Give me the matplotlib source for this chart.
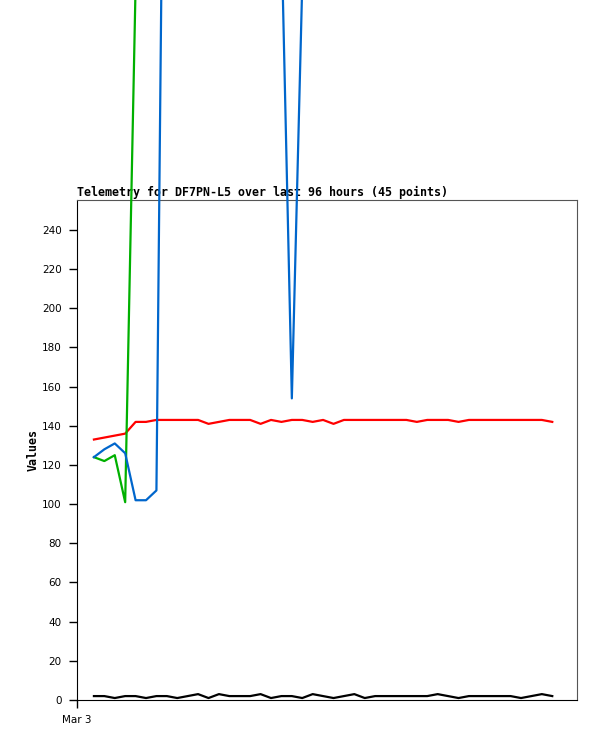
import matplotlib
matplotlib.use("Agg")
import matplotlib.pyplot as plt
import pandas as pd

# 45 telemetry samples, one every 2 hours starting Mar 3 03:15
times = pd.date_range("2024-03-03 03:15", periods=45, freq="2h")

red = [133, 134, 135, 136, 142, 142, 143, 143, 143, 143,
       143, 141, 142, 143, 143, 143, 141, 143, 142, 143,
       143, 142, 143, 141, 143, 143, 143, 143, 143, 143,
       143, 142, 143, 143, 143, 142, 143, 143, 143, 143,
       143, 143, 143, 143, 142]
green = [124, 122, 125, 101, 365, 380, 380, 380, 380, 380,
         380, 380, 380, 380, 380, 380, 380, 380, 380, 380,
         380, 380, 380, 380, 380, 380, 380, 380, 380, 380,
         380, 380, 380, 380, 380, 380, 380, 380, 380, 380,
         380, 380, 380, 380, 380]
blue = [124, 128, 131, 126, 102, 102, 107, 650, 600, 600,
        600, 600, 600, 600, 600, 600, 600, 600, 392, 154,
        366, 600, 600, 600, 600, 600, 600, 600, 600, 600,
        600, 600, 600, 600, 600, 600, 600, 600, 600, 600,
        600, 600, 600, 600, 600]
black = [2, 2, 1, 2, 2, 1, 2, 2, 1, 2,
         3, 1, 3, 2, 2, 2, 3, 1, 2, 2,
         1, 3, 2, 1, 2, 3, 1, 2, 2, 2,
         2, 2, 2, 3, 2, 1, 2, 2, 2, 2,
         2, 1, 2, 3, 2]

y_ticks = list(range(0, 241, 20))
x_start = pd.Timestamp("2024-03-03 00:00")
x_end = pd.Timestamp("2024-03-07 00:00")

fig = plt.figure(figsize=(5.97, 7.41), dpi=100)
ax = fig.add_axes([77 / 597, 1 - 700 / 741, 500 / 597, 500 / 741])

series = [(red, "#ff0000"), (green, "#00b000"), (blue, "#0066cc"), (black, "#000000")]
for values, color in series:
    ax.plot(times, values, color=color, linewidth=1.6, clip_on=False, zorder=5)

ax.set_xlim(x_start, x_end)
ax.set_ylim(0, 255.3)
ax.set_yticks(y_ticks)
ax.set_xticks([x_start])
ax.set_xticklabels(["Mar 3"])

ax.tick_params(axis="both", direction="out", length=6, width=1, labelsize=7.5,
               pad=5, colors="black")
ax.spines["top"].set_color("#555555")
ax.spines["right"].set_color("#555555")

ax.set_title("Telemetry for DF7PN-L5 over last 96 hours (45 points)",
             loc="left", fontsize=8.35, fontweight="bold",
             family="DejaVu Sans Mono", pad=3)
ax.set_ylabel("Values", fontsize=8.35, fontweight="bold",
              family="DejaVu Sans Mono", labelpad=2)

fig.savefig("out.png", dpi=100)
